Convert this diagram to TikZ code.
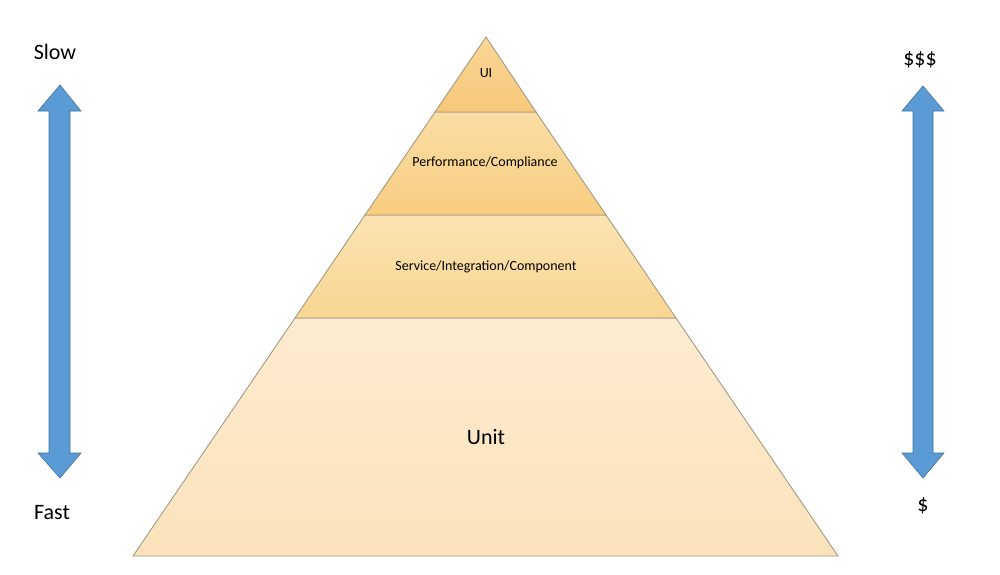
\documentclass[tikz,border=0pt]{standalone}
\usepackage{fontspec}
\setmainfont{Carlito}
\definecolor{edge}{HTML}{A39A84}
\definecolor{arrowfill}{HTML}{5B9BD5}
\definecolor{arrowedge}{HTML}{41719C}
\tikzset{
  layer/.style={draw=edge, line width=0.9pt},
  bigtext/.style={font=\fontsize{22}{26}\selectfont, text=black, inner sep=0pt},
  smalltext/.style={font=\fontsize{14}{17}\selectfont, text=black, inner sep=0pt},
  blockarrow/.style={fill=arrowfill, draw=arrowedge, line width=0.6pt, line join=miter}
}
\begin{document}
\begin{tikzpicture}[x=1pt,y=-1pt]
\useasboundingbox (0,0) rectangle (1000,574);
\fill[white] (0,0) rectangle (1000,574);
% pyramid layers
\path[layer, top color={rgb,255:red,253;green,236;blue,209}, bottom color={rgb,255:red,251;green,226;blue,186}]
  (133,556) -- (838,556) -- (676,318) -- (295,318) -- cycle;
\path[layer, top color={rgb,255:red,251;green,227;blue,178}, bottom color={rgb,255:red,249;green,214;blue,145}]
  (295,318) -- (676,318) -- (606,215) -- (365,215) -- cycle;
\path[layer, top color={rgb,255:red,251;green,222;blue,165}, bottom color={rgb,255:red,248;green,205;blue,128}]
  (365,215) -- (606,215) -- (536,112) -- (435,112) -- cycle;
\path[layer, top color={rgb,255:red,250;green,214;blue,150}, bottom color={rgb,255:red,247;green,200;blue,122}]
  (435,112) -- (536,112) -- (486,37) -- cycle;
% layer labels
\node[smalltext] (ui) at (486,73) {UI};
\node[smalltext] (perf) at (485,163) {Performance/Compliance};
\node[smalltext] (svc) at (486,267) {Service/Integration/Component};
\node[bigtext] (unit) at (486,437) {Unit};
% left arrow
\path[blockarrow] (60,85) -- (81,111) -- (70,111) -- (70,453) -- (81,453) -- (60,478)
  -- (38,453) -- (49,453) -- (49,111) -- (38,111) -- cycle;
\node[bigtext] (slow) at (55,52) {Slow};
\node[bigtext] (fast) at (52,513) {Fast};
% right arrow
\path[blockarrow] (923,86) -- (944,111) -- (933,111) -- (933,453) -- (944,453) -- (923,478)
  -- (902,453) -- (913,453) -- (913,111) -- (902,111) -- cycle;
\node[bigtext] (high) at (920,60) {\$\$\$};
\node[bigtext] (low) at (923,506) {\$};
\end{tikzpicture}
\end{document}
